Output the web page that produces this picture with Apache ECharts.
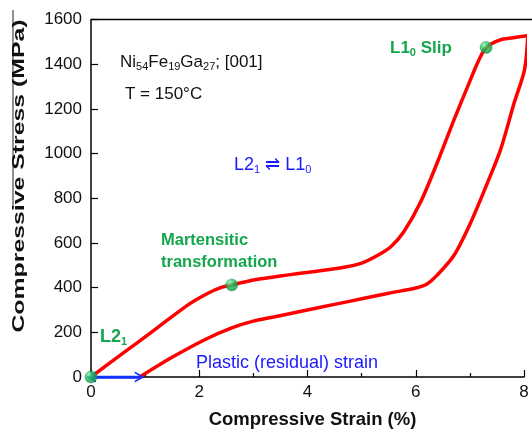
<!DOCTYPE html>
<html><head><meta charset="utf-8">
<script src="https://cdn.jsdelivr.net/npm/echarts@6/dist/echarts.min.js"></script>
<style>html,body{margin:0;padding:0;background:#fff}#c{width:532px;height:434px}</style>
</head><body><div id="c"></div>
<script>
// ---- data ----
var loadX = [0, 0.56, 1.18, 1.8, 2.17, 2.41, 2.6, 3.03, 3.65, 4.02, 4.6, 5.0, 5.3, 5.54, 5.78, 6.09, 6.4, 6.71, 6.96, 7.15, 7.3, 7.55, 7.8, 8.07];
var loadY = [0, 101, 212, 324, 376, 401, 412, 435, 457, 469, 488, 510, 545, 583, 650, 783, 961, 1153, 1301, 1410, 1475, 1508, 1518, 1528];
var unloadX = [8.07, 8.01, 7.82, 7.57, 7.33, 7.02, 6.71, 6.4, 6.2, 6.0, 5.5, 5.0, 4.5, 4.02, 3.4, 3.0, 2.6, 2.11, 1.49, 0.9];
var unloadY = [1528, 1376, 1228, 1020, 872, 694, 546, 457, 415, 398, 375, 350, 325, 301, 270, 250, 220, 168, 87, 0];
var dotX = [0, 2.6, 7.3];
var dotY = [0, 412, 1475];
var arrowX = [0, 0.9];
var arrowY = [0, 0];
var xTicks = [0, 2, 4, 6, 8];
var yTicks = [0, 200, 400, 600, 800, 1000, 1200, 1400, 1600];

function pairs(xs, ys) { return xs.map(function (x, i) { return [x, ys[i]]; }); }

var GREEN = '#14a64c', BLUE = '#1a1aff', FONT = '"Liberation Sans", Arial, sans-serif';
var subRich = function (color, size, bold) {
  return {
    n: { fontSize: size, fontFamily: FONT, fill: color, color: color, fontWeight: bold ? 'bold' : 'normal' },
    s: { fontSize: Math.round(size * 0.62), fontFamily: FONT, fill: color, color: color, fontWeight: bold ? 'bold' : 'normal', verticalAlign: 'bottom', padding: [9, 0, 0, 0] }
  };
};

var chart = echarts.init(document.getElementById('c'), null, { renderer: 'canvas' });
var dotColor = new echarts.graphic.RadialGradient(0.35, 0.3, 0.75, [
  { offset: 0, color: '#8ff0ad' }, { offset: 0.45, color: '#1fbf5a' }, { offset: 1, color: '#0a8a3c' }
]);
var chevron = 'path://M0,0L6,10L4,10L0,3.5L-4,10L-6,10Z';

chart.setOption({
  animation: false,
  grid: { left: 91, right: 8, top: 19.5, bottom: 54.5 },
  xAxis: {
    type: 'value', min: 0, max: 8, interval: 2,
    axisLine: { show: true, lineStyle: { color: '#000', width: 1.5 } },
    axisTick: { show: true, inside: true, length: 7, lineStyle: { color: '#000', width: 1.2 } },
    minorTick: { show: true, splitNumber: 2, length: 4, lineStyle: { color: '#000', width: 1.2 } },
    splitLine: { show: false },
    axisLabel: { color: '#111', fontSize: 17, fontFamily: FONT, margin: 7,
      formatter: function (v) { return xTicks.indexOf(v) >= 0 ? String(v) : ''; } },
    name: 'Compressive Strain (%)', nameLocation: 'middle', nameGap: 33,
    nameTextStyle: { color: '#111', fontSize: 18.5, fontWeight: 'bold', fontFamily: FONT, padding: [0, 0, 0, 10] }
  },
  yAxis: {
    type: 'value', min: 0, max: 1600, interval: 200,
    axisLine: { show: true, lineStyle: { color: '#000', width: 1.5 } },
    axisTick: { show: true, inside: true, length: 7, lineStyle: { color: '#000', width: 1.2 } },
    splitLine: { show: false },
    axisLabel: { color: '#111', fontSize: 17, fontFamily: FONT, margin: 9,
      formatter: function (v) { return yTicks.indexOf(v) >= 0 ? String(v) : ''; } }
  },
  graphic: [
    { type: 'line', shape: { x1: 91, y1: 19.5, x2: 532, y2: 19.5 }, style: { stroke: '#000', lineWidth: 1.5 }, silent: true },
    { type: 'line', shape: { x1: 13, y1: 10, x2: 13, y2: 208 }, style: { stroke: '#222', lineWidth: 1 }, silent: true },
    { type: 'text', x: 19.5, y: 176, rotation: Math.PI / 2, scaleX: 1.46,
      style: { text: 'Compressive Stress (MPa)', font: 'bold 17px ' + FONT, fill: '#111', textAlign: 'center', textVerticalAlign: 'middle' } },
    { type: 'text', x: 120, y: 62,
      style: { text: '{n|Ni}{s|54}{n|Fe}{s|19}{n|Ga}{s|27}{n|; [001]}', rich: subRich('#111', 17, false), textVerticalAlign: 'middle' } },
    { type: 'text', x: 125, y: 94,
      style: { text: 'T = 150°C', font: '17px ' + FONT, fill: '#111', textVerticalAlign: 'middle' } },
    { type: 'text', x: 234, y: 165,
      style: { text: '{n|L2}{s|1}{n| ⇌ L1}{s|0}', rich: subRich(BLUE, 18, false), textVerticalAlign: 'middle' } },
    { type: 'text', x: 390, y: 48,
      style: { text: '{n|L1}{s|0}{n| Slip}', rich: subRich(GREEN, 17, true), textVerticalAlign: 'middle' } },
    { type: 'text', x: 161, y: 240,
      style: { text: 'Martensitic', font: 'bold 16.5px ' + FONT, fill: GREEN, textVerticalAlign: 'middle' } },
    { type: 'text', x: 161, y: 262,
      style: { text: 'transformation', font: 'bold 16.5px ' + FONT, fill: GREEN, textVerticalAlign: 'middle' } },
    { type: 'text', x: 100, y: 337,
      style: { text: '{n|L2}{s|1}', rich: subRich(GREEN, 18, true), textVerticalAlign: 'middle' } },
    { type: 'text', x: 196, y: 363,
      style: { text: 'Plastic (residual) strain', font: '18px ' + FONT, fill: BLUE, textVerticalAlign: 'middle' } }
  ],
  series: [
    { type: 'line', data: pairs(loadX, loadY), smooth: 0.3, showSymbol: false, clip: false,
      lineStyle: { color: '#ff0000', width: 3.5 }, z: 3 },
    { type: 'line', data: pairs(unloadX, unloadY), smooth: 0.3, showSymbol: false, clip: false,
      lineStyle: { color: '#ff0000', width: 3.5 }, z: 3 },
    { type: 'line', data: pairs(arrowX, arrowY), showSymbol: false, clip: false,
      lineStyle: { color: '#1430ff', width: 2.5 }, z: 4,
      markLine: { silent: true, symbol: [chevron, chevron],
        symbolSize: [11, 10], label: { show: false }, lineStyle: { color: '#1430ff', width: 2.5, type: 'solid' },
        data: [[{ coord: [arrowX[0], arrowY[0]] }, { coord: [arrowX[1], arrowY[1]] }]] } },
    { type: 'scatter', data: pairs(dotX, dotY), symbolSize: 12, clip: false, z: 6,
      itemStyle: { color: dotColor, borderColor: '#0c8f3e', borderWidth: 0.5 } }
  ]
});
</script></body></html>
